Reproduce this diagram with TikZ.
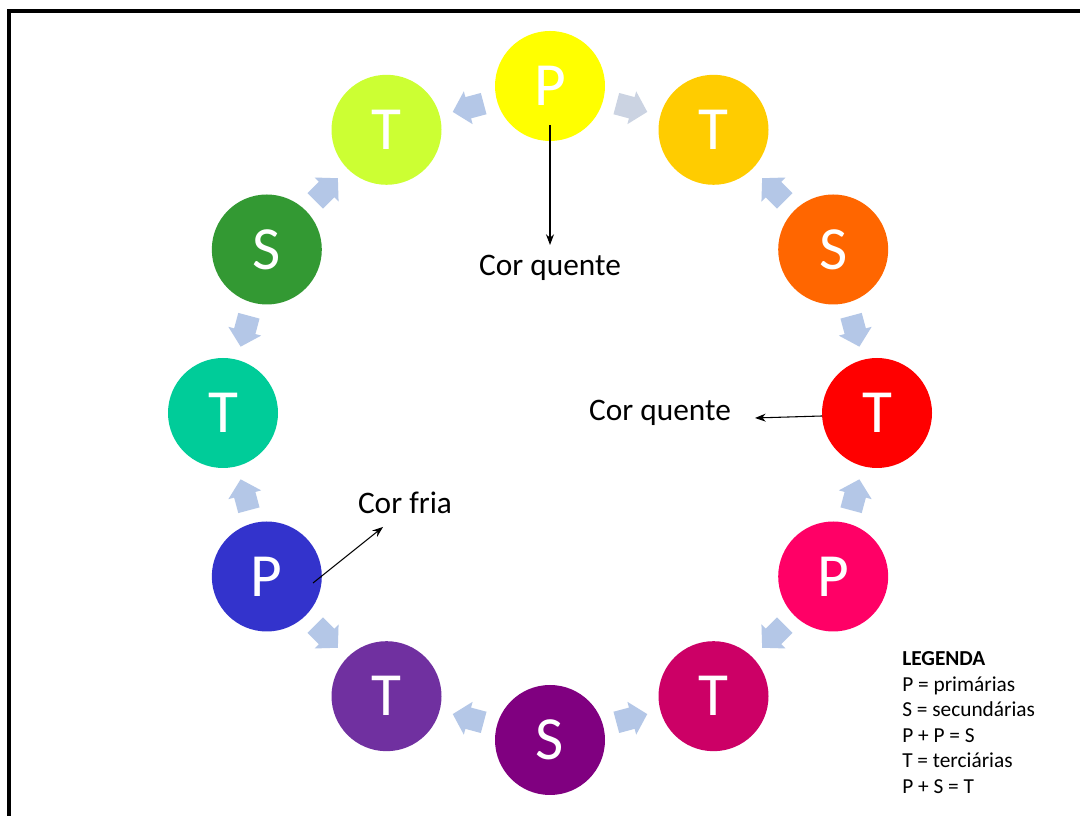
\documentclass[tikz,border=0pt]{standalone}
\usepackage{fontspec}
\setmainfont{Carlito}
\usetikzlibrary{arrows.meta}
\definecolor{cP1}{HTML}{FFFF00}
\definecolor{cT1}{HTML}{FFCC00}
\definecolor{cS1}{HTML}{FF6600}
\definecolor{cT2}{HTML}{FF0000}
\definecolor{cP2}{HTML}{FF0066}
\definecolor{cT3}{HTML}{CC0066}
\definecolor{cS2}{HTML}{800080}
\definecolor{cT4}{HTML}{7030A0}
\definecolor{cP3}{HTML}{3333CC}
\definecolor{cT5}{HTML}{00CC99}
\definecolor{cS3}{HTML}{339933}
\definecolor{cT6}{HTML}{CCFF33}
\definecolor{flowblue}{HTML}{B4C7E7}
\definecolor{flowgray}{HTML}{CBD3E2}
\begin{document}
\begin{tikzpicture}[x=0.75pt,y=0.75pt,
  wheel/.style={circle, minimum size=82.5pt, inner sep=0pt, text=white, font=\fontsize{46}{46}\selectfont},
  lbl/.style={font=\fontsize{23.5}{28}\selectfont, inner sep=0pt},
  legline/.style={font=\fontsize{16}{19}\selectfont, inner sep=0pt, anchor=base west},
  pointer/.style={draw=black, line width=0.8pt, -{Stealth[length=8pt,width=6pt]}}]
\useasboundingbox (0,0) rectangle (1080,816);
\fill[white] (0,0) rectangle (1080,816);
% frame
\draw[line width=3pt, line cap=rect] (9,0) -- (9,805) -- (1080,805);
% wheel
\begin{scope}[shift={(550,403)}]
  \foreach \k/\c/\t in {0/cP1/P,1/cT1/T,2/cS1/S,3/cT2/T,4/cP2/P,5/cT3/T,6/cS2/S,7/cT4/T,8/cP3/P,9/cT5/T,10/cS3/S,11/cT6/T}{
    \node[wheel, fill=\c] (c\k) at ({90-30*\k}:327) {\t};
  }
  \foreach \k in {0,...,11}{
    \pgfmathsetmacro\m{75-30*\k}
    \pgfmathsetmacro\d{mod(\k,2)==1 ? \m+90 : \m-90}
    \ifnum\k=0 \def\fc{flowgray}\else\def\fc{flowblue}\fi
    \begin{scope}[shift={(\m:316)}, rotate=\d]
      \fill[\fc] (-16,-11) -- (0,-11) -- (0,-17) -- (16,0) -- (0,17) -- (0,11) -- (-16,11) -- cycle;
    \end{scope}
  }
\end{scope}
% labels
\node[lbl] (q1) at (550,548) {Cor quente};
\node[lbl] (q2) at (660,403) {Cor quente};
\node[lbl] (f1) at (405,313) {Cor fria};
\coordinate (s1) at (550,691);
\coordinate (e1) at (550,571);
\coordinate (s2) at (822,400);
\coordinate (e2) at (755,398);
\coordinate (s3) at (313,233);
\coordinate (e3) at (383,289);
\draw[pointer] (s1) -- (e1);
\draw[pointer] (s2) -- (e2);
\draw[pointer] (s3) -- (e3);
% legend
\node[legline, font=\fontsize{16}{19}\selectfont\bfseries] (l1) at (902,150) {LEGENDA};
\node[legline] (l2) at (902,124.5) {P = primárias};
\node[legline] (l3) at (902,99) {S = secundárias};
\node[legline] (l4) at (902,73.5) {P + P = S};
\node[legline] (l5) at (902,48) {T = terciárias};
\node[legline] (l6) at (902,22.5) {P + S = T};
\end{tikzpicture}
\end{document}
